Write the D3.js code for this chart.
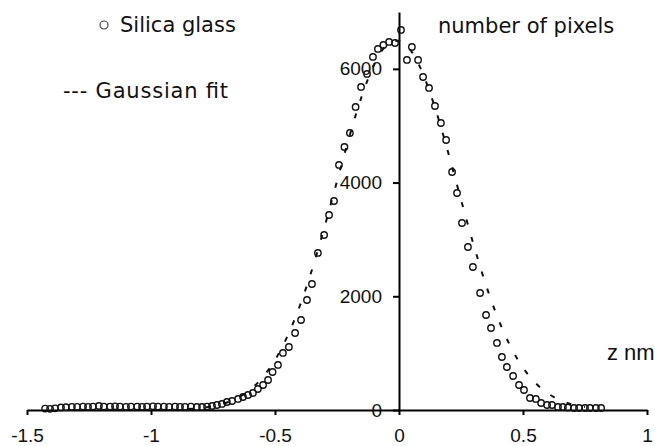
<!DOCTYPE html>
<html>
<head>
<meta charset="utf-8">
<script src="https://cdn.jsdelivr.net/npm/d3@7"></script>
<style>
  body { margin: 0; background: #fff; }
  svg { display: block; }
  .tick text { font-family: "Liberation Sans", Arial, sans-serif; font-size: 19px; fill: #111; }
  .domain, .tick line { stroke: #000; stroke-width: 2; }
  .hand { font-family: "DejaVu Sans", sans-serif; font-size: 21px; fill: #111; }
</style>
</head>
<body>
<div id="wrapper"></div>
<script>
// measured histogram (z in nm, number of pixels)
const zValues = [
  -1.427, -1.407, -1.387, -1.363, -1.343, -1.319, -1.298, -1.274, -1.254, -1.234,
  -1.210, -1.190, -1.165, -1.145, -1.125, -1.101, -1.081, -1.056, -1.036, -1.016,
  -0.992, -0.972, -0.948, -0.927, -0.903, -0.883, -0.863, -0.839,
  -0.815, -0.794, -0.774, -0.754, -0.734, -0.714, -0.694, -0.673, -0.649, -0.629,
  -0.609, -0.589, -0.569, -0.548, -0.528, -0.510, -0.488, -0.468, -0.444, -0.419,
  -0.395, -0.371, -0.351, -0.327, -0.302, -0.282, -0.262, -0.242, -0.220, -0.198,
  -0.175, -0.153, -0.129, -0.105, -0.085, -0.063, -0.040, -0.016, 0.008,
  0.032, 0.052, 0.077, 0.097, 0.121, 0.145, 0.169, 0.190, 0.214, 0.234,
  0.254, 0.278, 0.298, 0.327, 0.351, 0.371, 0.395, 0.415, 0.435, 0.460,
  0.484, 0.504, 0.528, 0.552, 0.573, 0.597, 0.617, 0.641, 0.661, 0.681,
  0.706, 0.726, 0.750, 0.770, 0.794, 0.815
];
const pixelCounts = [
  25, 20, 30, 45, 50, 55, 55, 60, 55, 60,
  70, 60, 60, 65, 60, 55, 60, 60, 55, 60,
  65, 60, 60, 55, 60, 55, 55, 60,
  53, 53, 60, 70, 88, 106, 141, 158, 194, 229,
  264, 299, 369, 440, 528, 668, 792, 1003, 1108, 1354,
  1583, 1935, 2216, 2762, 3078, 3430, 3676, 4310, 4626, 4872,
  5330, 5682, 5910, 6209, 6350, 6420, 6473, 6455, 6684,
  6157, 6385, 6157, 5857, 5664, 5347, 5048, 4749, 4186, 3817,
  3289, 2867, 2515, 2058, 1671, 1442, 1179, 932, 756, 598,
  440, 352, 211, 194, 123, 88, 88, 53, 53, 44,
  35, 35, 35, 35, 35, 35
];

// dashed Gaussian fit
const fitZ = [-0.85, -0.8, -0.75, -0.7, -0.65, -0.6, -0.55, -0.5, -0.45, -0.4, -0.35, -0.3,
  -0.25, -0.2, -0.15, -0.1, -0.05, 0, 0.05, 0.1, 0.15, 0.2, 0.25, 0.3, 0.35, 0.4,
  0.45, 0.5, 0.55, 0.6, 0.65, 0.7, 0.75];
const fitCounts = [18, 36, 68, 123, 214, 357, 572, 879, 1296, 1830, 2480, 3225,
  4022, 4810, 5520, 6076, 6414, 6495, 6308, 5877, 5251, 4501, 3701, 2918, 2207, 1602,
  1115, 744, 477, 293, 172, 97, 53];

const xTickValues = [-1.5, -1, -0.5, 0, 0.5, 1];
const yTickValues = [0, 2000, 4000, 6000];

function histogramPlot() {
  let dimensions = {
    width: 655,
    height: 446,
    margin: { top: 12, left: 27, bottom: 36, right: 8 }
  }
  dimensions.boundedWidth = dimensions.width - dimensions.margin.left - dimensions.margin.right;
  dimensions.boundedHeight = dimensions.height - dimensions.margin.top - dimensions.margin.bottom;

  const wrapper = d3.select("#wrapper").append("svg")
    .attr("width", dimensions.width)
    .attr("height", dimensions.height);
  const container = wrapper.append("g")
    .attr("transform", `translate(${dimensions.margin.left},${dimensions.margin.top})`);

  const xScale = d3.scaleLinear().domain([-1.5, 1]).range([0, dimensions.boundedWidth]);
  const yScale = d3.scaleLinear().domain([0, 7000]).range([dimensions.boundedHeight, 0]);

  const xAxisGen = d3.axisBottom(xScale).tickValues(xTickValues)
    .tickSize(5).tickSizeOuter(0).tickPadding(14).tickFormat(d => String(d));
  const yAxisGen = d3.axisLeft(yScale).tickValues(yTickValues)
    .tickSize(6).tickSizeOuter(0).tickPadding(11).tickFormat(d => String(d));

  container.append("g").attr("transform", `translate(0,${yScale(0)})`).call(xAxisGen);
  container.append("g").attr("transform", `translate(${xScale(0)},0)`).call(yAxisGen);

  // fit curve
  const fitData = fitZ.map((z, i) => [z, fitCounts[i]]);
  const line = d3.line().x(d => xScale(d[0])).y(d => yScale(d[1])).curve(d3.curveMonotoneX);
  container.append("path")
    .datum(fitData)
    .attr("d", line)
    .attr("fill", "none")
    .attr("stroke", "#111")
    .attr("stroke-width", 2)
    .attr("stroke-dasharray", "5,13");

  // measured points
  container.selectAll("circle.pt")
    .data(zValues.map((z, i) => [z, pixelCounts[i]]))
    .enter()
    .append("circle")
    .attr("class", "pt")
    .attr("cx", d => xScale(d[0]))
    .attr("cy", d => yScale(d[1]))
    .attr("r", 3.2)
    .attr("fill", "none")
    .attr("stroke", "#111")
    .attr("stroke-width", 1.4);

  // legend and labels
  wrapper.append("circle").attr("cx", 104).attr("cy", 25).attr("r", 4)
    .attr("fill", "none").attr("stroke", "#444").attr("stroke-width", 1.2);
  wrapper.append("text").attr("class", "hand").attr("x", 120).attr("y", 32).text("Silica glass");
  wrapper.append("text").attr("class", "hand").attr("x", 63).attr("y", 98)
    .attr("textLength", 165).text("--- Gaussian fit");
  wrapper.append("text").attr("class", "hand").attr("x", 438).attr("y", 33).text("number of pixels");
  wrapper.append("text")
    .attr("x", 607).attr("y", 360)
    .style("font-family", "'Liberation Sans', Arial, sans-serif")
    .style("font-size", "22px")
    .attr("fill", "#111")
    .text("z nm");
}

histogramPlot()
</script>
</body>
</html>
